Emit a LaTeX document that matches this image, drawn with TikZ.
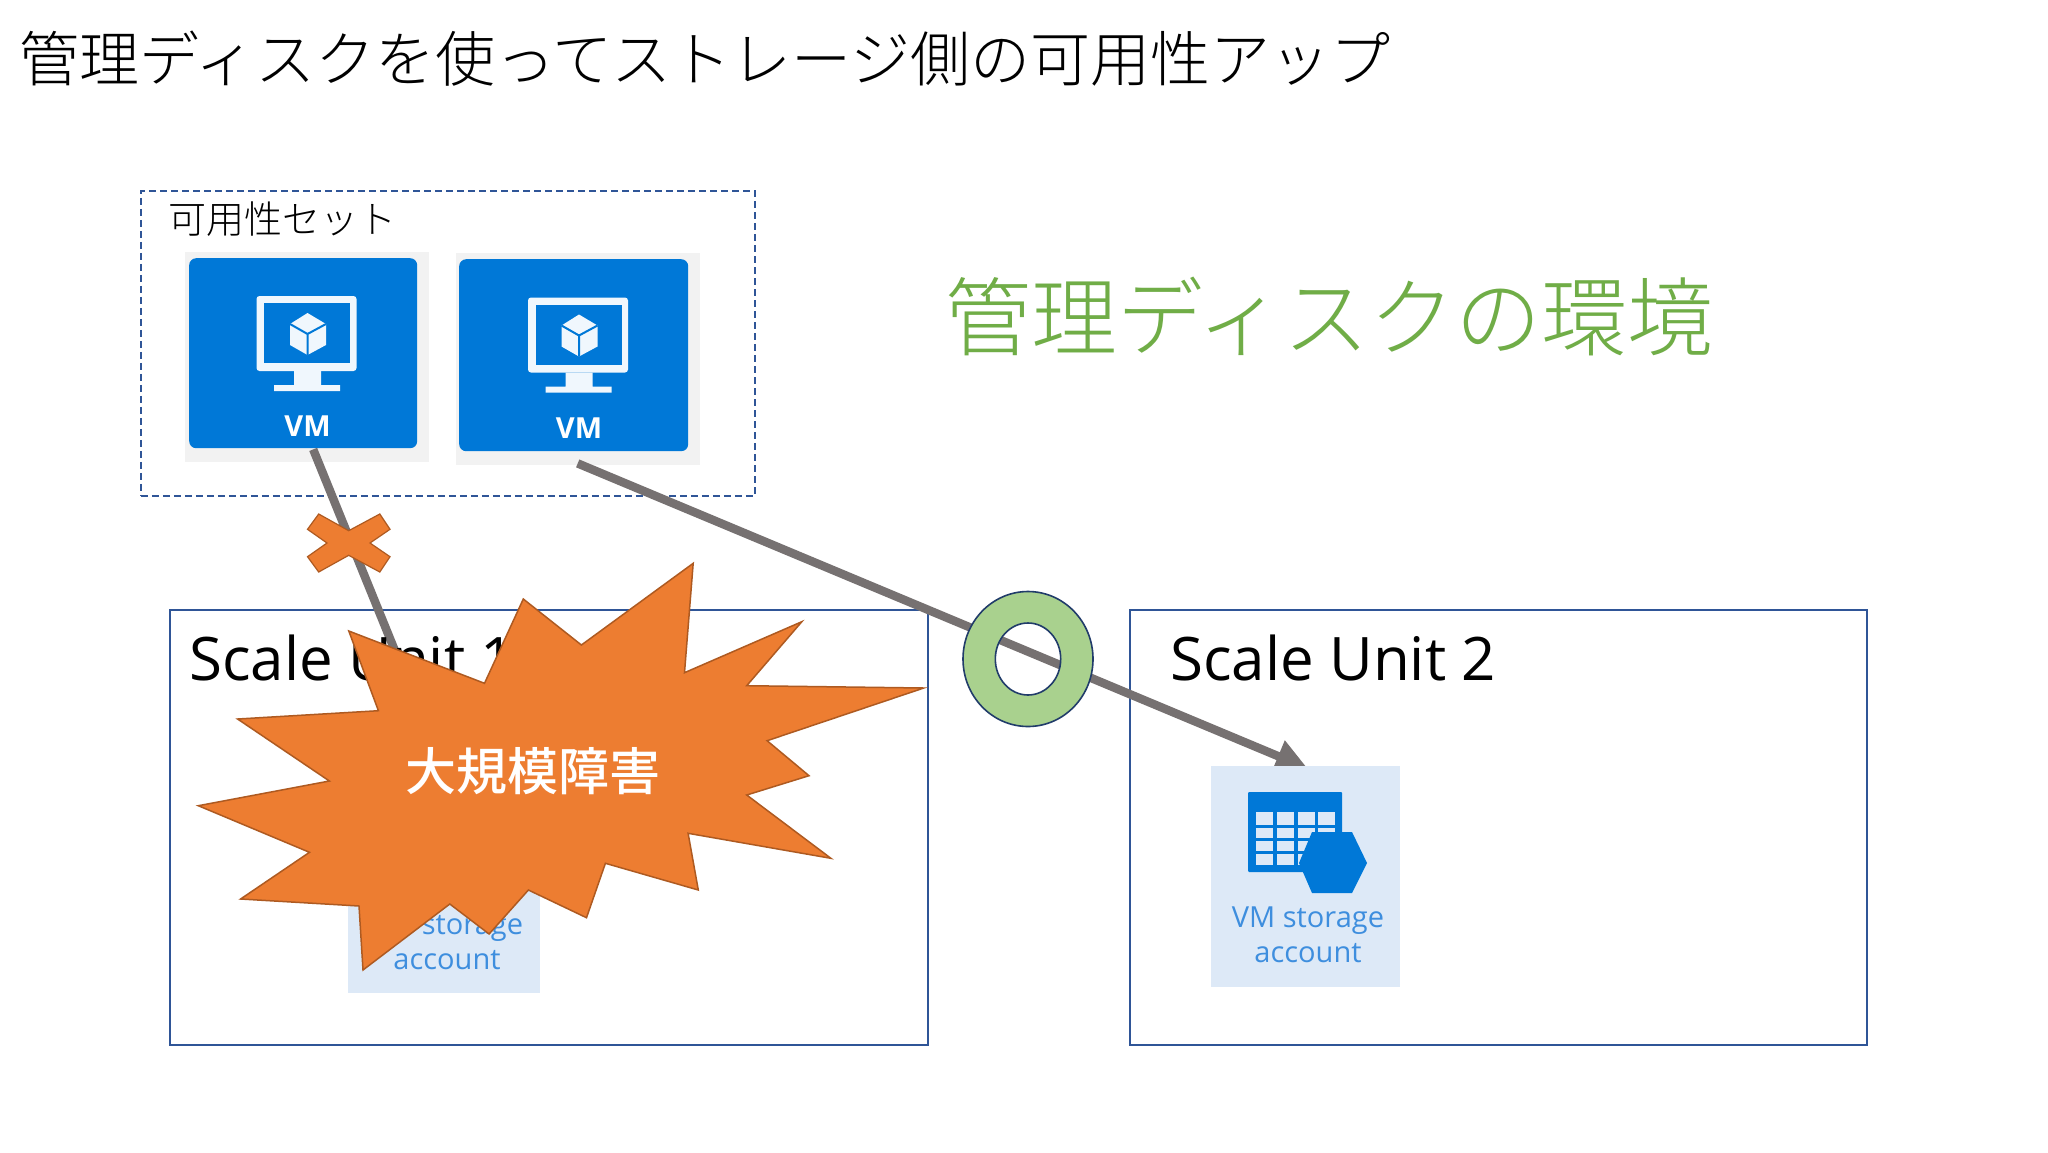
\documentclass[tikz,border=0pt]{standalone}
\usepackage{fontspec}
\setmainfont{Open Sans}
\newfontfamily\cjk{Noto Sans CJK JP}
\newfontfamily\cjklight{Noto Sans CJK JP Light}
\newfontfamily\cjkmed{Noto Sans CJK JP Medium}
\usetikzlibrary{arrows.meta,calc}
\pgfdeclarelayer{base}
\pgfdeclarelayer{conn}
\pgfsetlayers{base,conn,main}
\definecolor{azure}{HTML}{0078D7}
\definecolor{tilegrey}{HTML}{F2F2F2}
\definecolor{tileblue}{HTML}{DDE9F7}
\definecolor{linkblue}{HTML}{3E8EDE}
\definecolor{frameblue}{HTML}{2F5597}
\definecolor{linkgrey}{HTML}{767171}
\definecolor{burst}{HTML}{ED7D31}
\definecolor{burstedge}{HTML}{AE5A21}
\definecolor{ringgreen}{HTML}{A9D18E}
\definecolor{titlegreen}{HTML}{70AD47}
\newcommand{\px}[1]{\fontsize{#1}{#1}\selectfont}
\tikzset{
  unitbox/.style={draw=frameblue,line width=2pt,rectangle,inner sep=0pt,minimum width=#1,minimum height=435pt,anchor=north west},
  greybg/.style={fill=tilegrey,rectangle,inner sep=0pt,anchor=north west},
  vmtile/.style={fill=azure,rectangle,rounded corners=7pt,inner sep=0pt,minimum width=228pt,minimum height=190pt,anchor=north west},
  vmlabel/.style={text=white,font=\bfseries\px{29},inner sep=0pt},
  storetile/.style={fill=tileblue,rectangle,inner sep=0pt,anchor=north west},
  storelabel/.style={text=linkblue,font=\px{29},align=center,inner sep=0pt},
  link/.style={draw=linkgrey,line width=8.5pt},
  jp/.style={inner sep=0pt,font=\cjklight\px{#1}},
  jpmed/.style={inner sep=0pt,font=\cjkmed\px{#1}},
  unitlabel/.style={inner sep=0pt,anchor=base west,font=\px{60}}
}
\newcommand{\vmicon}[2]{%
  \begin{scope}[shift={(#1,#2)}]
    \fill[white!94!azure,rounded corners=3pt] (256.5,296) rectangle (356.5,371);
    \fill[azure] (264,303) rectangle (350,363);
    \fill[white!94!azure] (294,371) -- (321,371) -- (321,385) -- (340,385) -- (340,391) -- (274,391) -- (274,385) -- (294,385) -- cycle;
    \fill[white!94!azure] (307.5,313) -- (326,324) -- (326,345) -- (307.5,355) -- (290,345) -- (290,324) -- cycle;
    \draw[azure,line width=2pt] (290,324) -- (307.5,334) -- (326,324) (307.5,334) -- (307.5,355);
  \end{scope}}
\begin{document}
\begin{tikzpicture}[x=1pt,y=-1pt]
\useasboundingbox (0,0) rectangle (2048,1152);
% titles
\node[jp=60,anchor=west] (title) at (19,59) {管理ディスクを使ってストレージ側の可用性アップ};
\node[jp=86,anchor=west,text=titlegreen] (subtitle) at (945,316) {管理ディスクの環境};
% scale units and availability set
\begin{pgfonlayer}{base}
  \fill[white] (0,0) rectangle (2048,1152);
  \node[unitbox=758pt] (su1) at (169,608.5) {};
  \node[unitbox=737pt] (su2) at (1129,608.5) {};
  \node[draw=frameblue,line width=1.6pt,dash pattern=on 7pt off 4pt,rectangle,inner sep=0pt,minimum width=614pt,minimum height=305pt,anchor=north west] (avset) at (140,190) {};
  \node[greybg,minimum width=244pt,minimum height=210pt] (vm1bg) at (185,252) {};
  \node[greybg,minimum width=244pt,minimum height=212pt] (vm2bg) at (456,253) {};
  \node[vmtile] (vm1) at (189,258) {};
  \node[vmtile,minimum width=229pt,minimum height=192pt] (vm2) at (459,259) {};
  \vmicon{0}{0}
  \vmicon{271.5}{1.5}
  \node[vmlabel] (vm1t) at (307.5,426) {VM};
  \node[vmlabel] (vm2t) at (579,428) {VM};
\end{pgfonlayer}
\node[jp=38,anchor=west] (avlabel) at (168,219) {可用性セット};
% storage tiles
\node[storetile,minimum width=192pt,minimum height=220pt] (stor1) at (348,773) {};
\node[storelabel] (stor1t) at (447,942) {VM storage\\[6pt]account};
\node[storetile,minimum width=189pt,minimum height=221pt] (stor2) at (1211,765.5) {};
\node[storelabel] (stor2t) at (1308,935) {VM storage\\[6pt]account};
% storage icon
\fill[azure,rounded corners=1pt] (1248,792) rectangle (1342,872);
\foreach \xa in {1256,1276.5,1297.5,1318}
  \foreach \ya/\yb in {812/825,828/838,841/851,854/865}
    \fill[tileblue] (\xa,\ya) rectangle ++(17,\yb-\ya);
\fill[azure] (1312,832) -- (1352,832) -- (1367,863) -- (1352,893) -- (1312,893) -- (1299,863) -- cycle;
% connectors
\begin{pgfonlayer}{conn}
  \draw[link] ([xshift=10pt,yshift=-1pt]vm1.south) -- ([xshift=-24pt,yshift=60pt]stor1.north);
  \draw[link,-{Triangle[length=32pt,width=32pt]}] ([xshift=4pt,yshift=-12pt]vm2.south) -- ([xshift=2pt,yshift=-3pt]stor2.north);
\end{pgfonlayer}
\node[unitlabel] (su1t) at (189,680) {Scale Unit 1};
\node[unitlabel] (su2t) at (1170,680) {Scale Unit 2};
% cross
\draw[fill=burst,draw=burstedge,line width=1.2pt] (318.7,514) -- (348.7,530.7) -- (379.8,514) -- (390,529.3) -- (370,543) -- (390,556.7) -- (379.8,572) -- (348.7,555.3) -- (318.7,572) -- (307.5,556.7) -- (327,543) -- (307.5,529.3) -- cycle;
% burst
\draw[fill=burst,draw=burstedge,line width=1.5pt,line join=miter]
 (348.8,631) -- (484.5,683.3) -- (523.3,599) -- (581.4,645) -- (693.2,563.3) -- (684.5,672.7) -- (801.8,621.7) -- (746.7,685.7) -- (923.8,688) -- (767.1,740.7) -- (809,775.7) -- (746.7,795) -- (830.9,858.3) -- (688.1,833.3) -- (698.3,890) -- (605.4,863.3) -- (586.5,917.7) -- (528.4,890) -- (489.1,934) -- (449.8,904) -- (363,970) -- (359,906) -- (240.6,899) -- (309.5,852.3) -- (198.3,805.7) -- (329.4,781) -- (237.6,719) -- (378.4,710.7) -- cycle;
\node[jpmed=51,text=white] (burstt) at (533,771) {大規模障害};
% ring
\draw[fill=ringgreen,draw=frameblue!70!black,line width=1.6pt,even odd rule] (1028,659) ellipse [x radius=65,y radius=67.5] (1028,659) ellipse [x radius=32.7,y radius=36];
\end{tikzpicture}
\end{document}
